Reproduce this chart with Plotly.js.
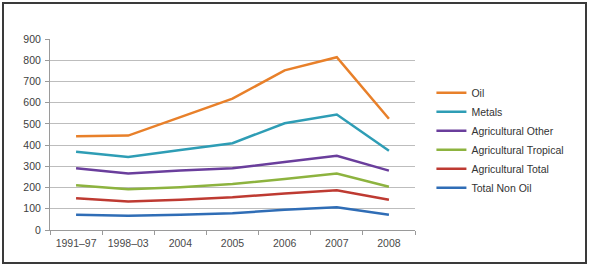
<!DOCTYPE html>
<html>
<head>
<meta charset="utf-8">
<script src="https://cdn.plot.ly/plotly-3.0.1.min.js"></script>
<style>
html,body{margin:0;padding:0;background:#fff;}
#wrap{position:absolute;left:2px;top:2px;width:581px;height:258px;border:2px solid #3a3a3a;}
#chart{position:absolute;left:0;top:0;width:589px;height:266px;}
</style>
</head>
<body>
<div id="chart"></div>
<div id="wrap"></div>
<script>
const categories = ["1991–97","1998–03","2004","2005","2006","2007","2008"];
const oil = [442, 445, 532, 619, 752, 814, 524];
const metals = [369, 344, 377, 409, 503, 544, 373];
const agriOther = [291, 266, 280, 291, 320, 350, 280];
const agriTropical = [211, 192, 202, 217, 240, 266, 204];
const agriTotal = [150, 134, 143, 154, 172, 187, 143];
const totalNonOil = [72, 67, 72, 79, 95, 107, 72];

const seriesNames = ["Oil","Metals","Agricultural Other","Agricultural Tropical","Agricultural Total","Total Non Oil"];
const seriesValues = [oil, metals, agriOther, agriTropical, agriTotal, totalNonOil];
const colors = ["#E8802A","#2E9DB5","#6A3E9C","#8DB33F","#BE3A32","#2F6DB6"];

const traces = seriesNames.map((n,i)=>({
  x: categories, y: seriesValues[i], name: n, type: "scatter", mode: "lines",
  line: {color: colors[i], width: 2.5}
}));

const layout = {
  width: 589, height: 266,
  margin: {l: 50, r: 174, t: 39, b: 36},
  paper_bgcolor: "rgba(0,0,0,0)", plot_bgcolor: "rgba(0,0,0,0)",
  font: {family: "Liberation Sans, Arial, sans-serif", size: 10.5, color: "#404040"},
  showlegend: true,
  legend: {x: 1.045, xanchor: "left", y: 0.795, yanchor: "top", font: {size: 10.5, color: "#333"},
           bgcolor: "rgba(0,0,0,0)", itemwidth: 30, tracegroupgap: 0},
  xaxis: {type: "category", range: [-0.5, 6.5], showgrid: false, showline: true, linecolor: "#9a9a9a",
          ticks: "outside", tickson: "boundaries", ticklen: 4, tickcolor: "#9a9a9a",
          ticklabelstandoff: 3,
          tickfont: {size: 10.5, color: "#4a4a4a"}, fixedrange: true},
  yaxis: {range: [0, 900], dtick: 100, showgrid: true, gridcolor: "#bdbdbd", gridwidth: 1,
          showline: true, linecolor: "#9a9a9a", ticks: "outside", ticklen: 4, tickcolor: "#9a9a9a",
          ticklabelstandoff: 2,
          zeroline: false, tickfont: {size: 10.5, color: "#404040"}, fixedrange: true}
};

Plotly.newPlot("chart", traces, layout, {staticPlot: true, displayModeBar: false});
</script>
</body>
</html>
